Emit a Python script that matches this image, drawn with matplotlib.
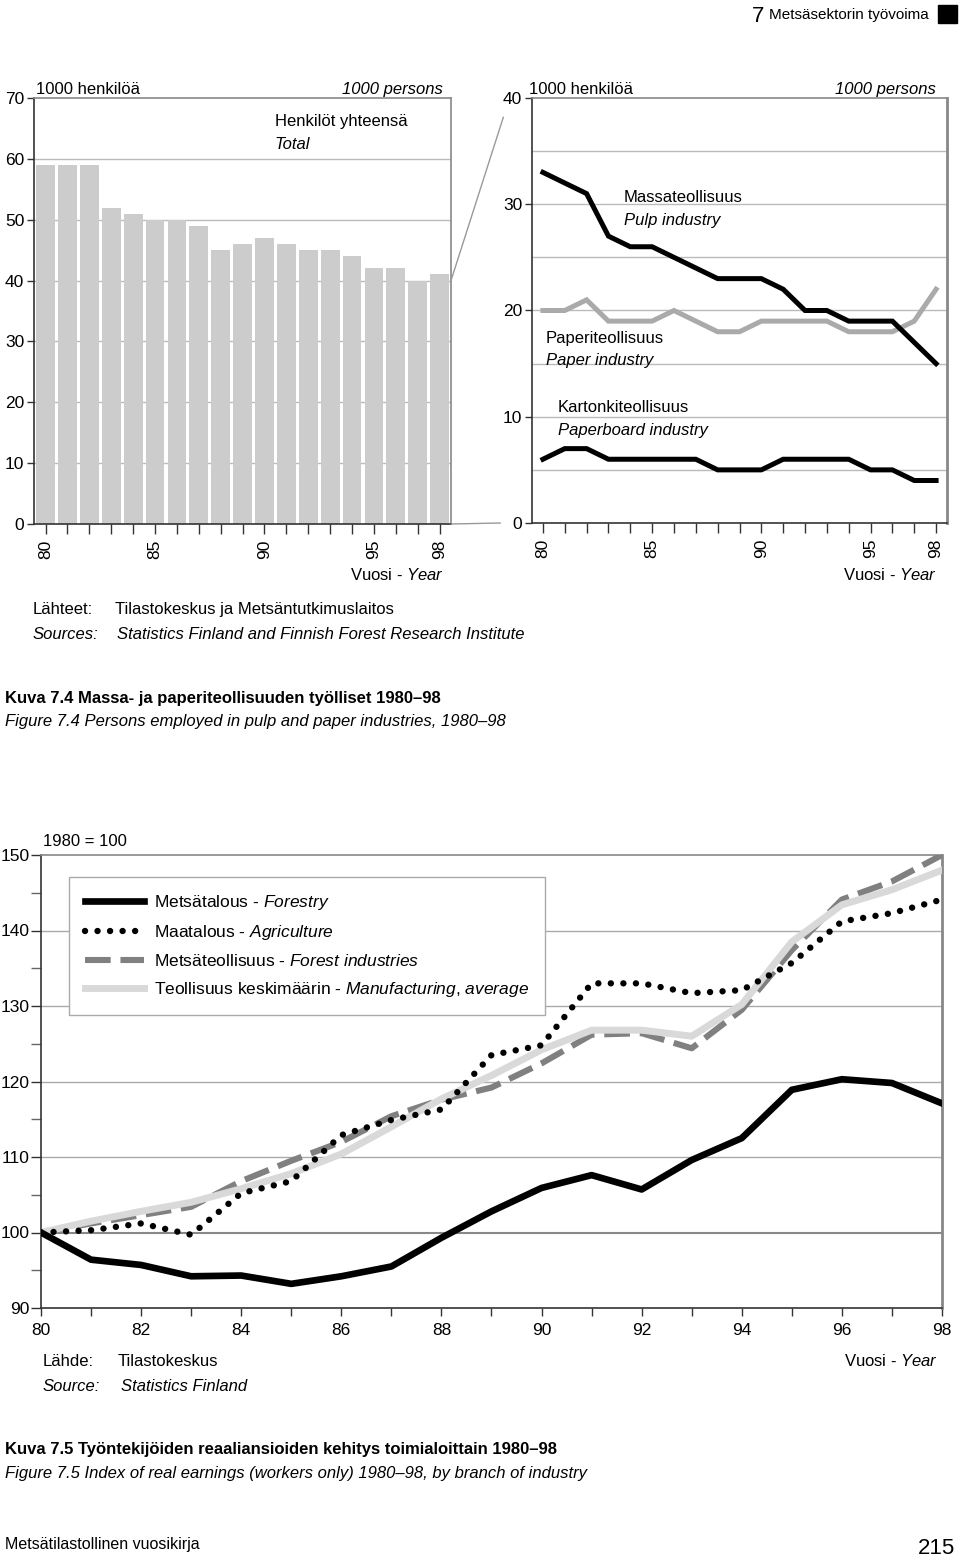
import matplotlib
matplotlib.use("Agg")
import matplotlib.pyplot as plt
import numpy as np
from matplotlib.patches import ConnectionPatch, Rectangle
from matplotlib.ticker import MultipleLocator

plt.rcParams['font.family'] = ['Liberation Sans', 'DejaVu Sans']
plt.rcParams['mathtext.fontset'] = 'custom'
plt.rcParams['mathtext.rm'] = 'Liberation Sans'
plt.rcParams['mathtext.it'] = 'Liberation Sans:italic'

# ---- data ----
years = np.arange(1980, 1999)
yy = years - 1900

# Kuva 7.4, total persons (1000)
total = [59, 59, 59, 52, 51, 50, 50, 49, 45, 46, 47, 46, 45, 45, 44, 42, 42, 40, 41]
pulp = [33, 32, 31, 27, 26, 26, 25, 24, 23, 23, 23, 22, 20, 20, 19, 19, 19, 17, 15]
paper = [20, 20, 21, 19, 19, 19, 20, 19, 18, 18, 19, 19, 19, 19, 18, 18, 18, 19, 22]
paperboard = [6, 7, 7, 6, 6, 6, 6, 6, 5, 5, 5, 6, 6, 6, 6, 5, 5, 4, 4]

# Kuva 7.5, index of real earnings 1980 = 100
forestry = [100, 96.4, 95.7, 94.2, 94.3, 93.2, 94.2, 95.5, 99.3, 102.8, 105.9,
            107.6, 105.7, 109.6, 112.5, 118.9, 120.3, 119.8, 117.1]
agriculture = [100, 100.3, 101.2, 99.7, 105.2, 106.8, 112.9, 114.9, 116.3, 123.5,
               124.8, 133.0, 133.0, 131.7, 132.1, 135.7, 141.2, 142.3, 144.1]
forest_ind = [100, 101.2, 102.3, 103.4, 106.8, 109.5, 112.0, 115.4, 117.6, 119.2,
              122.4, 126.2, 126.4, 124.4, 129.5, 137.4, 144.1, 146.5, 150.0]
manufacturing = [100, 101.5, 102.8, 104.0, 105.8, 107.8, 110.4, 114.0, 117.7, 120.8,
                 124.2, 126.8, 126.8, 126.0, 130.2, 138.5, 143.4, 145.4, 148.0]

W, H = 960, 1559
FS = 12
TFS = 12.5
fig = plt.figure(figsize=(W / 100, H / 100), dpi=100)


def box(l, t, r, b):
    return [l / W, 1 - b / H, (r - l) / W, (b - t) / H]


def txt(x, y, s, **kw):
    kw.setdefault('fontsize', FS)
    kw.setdefault('va', 'center_baseline')
    fig.text(x / W, 1 - y / H, s, **kw)


def style_spines(ax):
    for s in ['top', 'right']:
        ax.spines[s].set_color('#888888')
        ax.spines[s].set_linewidth(1.2)
    for s in ['left', 'bottom']:
        ax.spines[s].set_color('#333333')
        ax.spines[s].set_linewidth(1.2)


# ---- bar chart ----
ax1 = fig.add_axes(box(34, 98, 451, 524))
ax1.bar(yy, total, width=0.86, color='#cccccc', zorder=2)
ax1.set_xlim(79.47, 98.52)
ax1.set_ylim(0, 70)
ax1.yaxis.set_major_locator(MultipleLocator(10))
ax1.set_xticks(yy)
ax1.set_xticklabels([str(v) if v in (80, 85, 90, 95, 98) else '' for v in yy], rotation=90)
for v in range(10, 70, 10):
    ax1.axhline(v, color='#bbbbbb', lw=1, zorder=1)
style_spines(ax1)
ax1.tick_params(axis='y', length=5, width=1, pad=2, labelsize=TFS, color='#333333')
ax1.tick_params(axis='x', length=7, width=1, pad=4, labelsize=TFS, color='#333333')

# ---- line chart ----
ax2 = fig.add_axes(box(532, 98, 947, 523))
ax2.plot(yy, pulp, color='black', lw=3.6, solid_joinstyle='miter', zorder=3)
ax2.plot(yy, paper, color='#aaaaaa', lw=3.6, solid_joinstyle='miter', zorder=2)
ax2.plot(yy, paperboard, color='black', lw=3.6, solid_joinstyle='miter', zorder=3)
ax2.set_xlim(79.5, 98.5)
ax2.set_ylim(0, 40)
ax2.yaxis.set_major_locator(MultipleLocator(10))
ax2.set_xticks(yy)
ax2.set_xticklabels([str(v) if v in (80, 85, 90, 95, 98) else '' for v in yy], rotation=90)
for v in range(5, 40, 5):
    ax2.axhline(v, color='#bbbbbb', lw=1, zorder=1)
style_spines(ax2)
ax2.spines['right'].set_linewidth(2)
ax2.tick_params(axis='y', length=5, width=1, pad=2, labelsize=TFS, color='#333333')
ax2.tick_params(axis='x', length=7, width=1, pad=4, labelsize=TFS, color='#333333')

# zoom connectors
for a, b in [((1.0, 40 / 70), (-0.069, 0.955)), ((1.0, 0.0), (-0.076, 0.0))]:
    con = ConnectionPatch(xyA=a, coordsA='axes fraction', axesA=ax1,
                          xyB=b, coordsB='axes fraction', axesB=ax2,
                          color='#999999', lw=1)
    fig.add_artist(con)

# ---- index chart ----
ax3 = fig.add_axes(box(41, 855, 942, 1308))
ax3.plot(yy, forest_ind, color='#808080', lw=4.4, linestyle=(0, (4.2, 1.6)),
         dash_capstyle='butt', zorder=3, label='Metsäteollisuus - $\\it{Forest\\ industries}$')
ax3.plot(yy, manufacturing, color='#d9d9d9', lw=5, zorder=4,
         label='Teollisuus keskimäärin - $\\it{Manufacturing{,}\\ average}$')
ax3.plot(yy, agriculture, color='black', lw=4.6, linestyle=(0, (0.01, 1.95)),
         dash_capstyle='round', zorder=5, label='Maatalous - $\\it{Agriculture}$')
ax3.plot(yy, forestry, color='black', lw=4.8, zorder=6, label='Metsätalous - $\\it{Forestry}$')
ax3.set_xlim(80, 98)
ax3.set_ylim(90, 150)
ax3.yaxis.set_major_locator(MultipleLocator(10))
ax3.yaxis.set_minor_locator(MultipleLocator(5))
ax3.set_xticks(yy)
ax3.set_xticklabels([str(v) if v % 2 == 0 else '' for v in yy])
for v in range(110, 150, 10):
    ax3.axhline(v, color='#aaaaaa', lw=1, zorder=1)
ax3.axhline(100, color='#888888', lw=1.5, zorder=1)
style_spines(ax3)
ax3.spines['right'].set_linewidth(2)
ax3.tick_params(axis='y', which='major', length=7, width=1, pad=1, labelsize=TFS, color='#333333')
ax3.tick_params(axis='y', which='minor', length=7, width=1, color='#666666')
ax3.tick_params(axis='x', length=6, width=1, pad=5, labelsize=TFS, color='#333333')

handles, labels = ax3.get_legend_handles_labels()
order = [3, 2, 0, 1]
leg = ax3.legend([handles[i] for i in order], [labels[i] for i in order],
                 loc='upper left', bbox_to_anchor=(0.031, 0.951), fontsize=FS + 0.5,
                 frameon=True, fancybox=False, edgecolor='#aaaaaa', framealpha=1,
                 handlelength=3.4, handletextpad=0.6, labelspacing=0.64,
                 borderpad=0.9, borderaxespad=0)
leg.get_frame().set_linewidth(1)
leg.set_zorder(10)

# ---- texts ----
txt(764, 14, '7', fontsize=16, ha='right')
txt(769, 14, 'Metsäsektorin työvoima', fontsize=11)
fig.patches.append(Rectangle((938 / W, 1 - 23 / H), 19 / W, 18 / H,
                             transform=fig.transFigure, color='black'))

txt(36, 88, '1000 henkilöä')
txt(443, 88, '1000 persons', style='italic', ha='right')
txt(275, 120, 'Henkilöt yhteensä')
txt(275, 143, 'Total', style='italic')
txt(444, 573, 'Vuosi - $\\it{Year}$', ha='right')

txt(529, 88, '1000 henkilöä')
txt(936, 88, '1000 persons', style='italic', ha='right')
txt(624, 196, 'Massateollisuus')
txt(624, 219, 'Pulp industry', style='italic')
txt(546, 337, 'Paperiteollisuus')
txt(546, 359, 'Paper industry', style='italic')
txt(558, 406, 'Kartonkiteollisuus')
txt(558, 429, 'Paperboard industry', style='italic')
txt(937, 573, 'Vuosi - $\\it{Year}$', ha='right')

txt(33, 608, 'Lähteet:')
txt(115, 608, 'Tilastokeskus ja Metsäntutkimuslaitos')
txt(33, 633, 'Sources:', style='italic')
txt(117, 633, 'Statistics Finland and Finnish Forest Research Institute', style='italic')

txt(5, 697, 'Kuva 7.4 Massa- ja paperiteollisuuden työlliset 1980–98', weight='bold')
txt(5, 720, 'Figure 7.4 Persons employed in pulp and paper industries, 1980–98', style='italic')

txt(43, 840, '1980 = 100')
txt(43, 1360, 'Lähde:')
txt(118, 1360, 'Tilastokeskus')
txt(43, 1385, 'Source:', style='italic')
txt(121, 1385, 'Statistics Finland', style='italic')
txt(938, 1360, 'Vuosi - $\\it{Year}$', ha='right')

txt(5, 1448, 'Kuva 7.5 Työntekijöiden reaaliansioiden kehitys toimialoittain 1980–98', weight='bold')
txt(5, 1472, 'Figure 7.5 Index of real earnings (workers only) 1980–98, by branch of industry', style='italic')

txt(5, 1543, 'Metsätilastollinen vuosikirja', fontsize=11.5)
txt(955, 1546, '215', fontsize=16, ha='right')

fig.savefig('out.png', dpi=100)
